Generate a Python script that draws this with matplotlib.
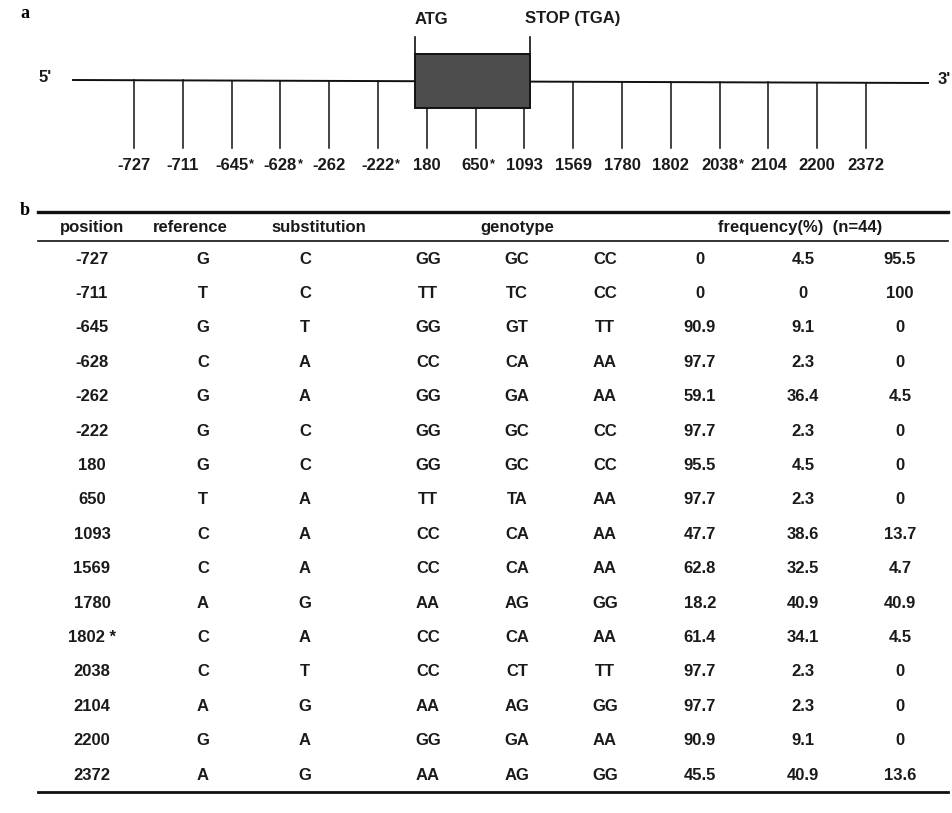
import matplotlib.pyplot as plt
from matplotlib.patches import Rectangle

# SNP positions along the gene and their genotype frequencies
positions = ["-727", "-711", "-645", "-628", "-262", "-222", "180", "650",
             "1093", "1569", "1780", "1802", "2038", "2104", "2200", "2372"]
starred_map = ["-645", "-628", "-222", "650", "2038"]
starred_table = ["1802"]
reference = ["G", "T", "G", "C", "G", "G", "G", "T",
             "C", "C", "A", "C", "C", "A", "G", "A"]
substitution = ["C", "C", "T", "A", "A", "C", "C", "A",
                "A", "A", "G", "A", "T", "G", "A", "G"]
freq_homo_ref = [0, 0, 90.9, 97.7, 59.1, 97.7, 95.5, 97.7,
                 47.7, 62.8, 18.2, 61.4, 97.7, 97.7, 90.9, 45.5]
freq_hetero = [4.5, 0, 9.1, 2.3, 36.4, 2.3, 4.5, 2.3,
               38.6, 32.5, 40.9, 34.1, 2.3, 2.3, 9.1, 40.9]
freq_homo_sub = [95.5, 100, 0, 0, 4.5, 0, 0, 0,
                 13.7, 4.7, 40.9, 4.5, 0, 0, 0, 13.6]
headers = ["position", "reference", "substitution", "genotype",
           "frequency(%)  (n=44)"]

plt.rcParams["font.family"] = ["Liberation Sans", "DejaVu Sans"]

fig = plt.figure(figsize=(9.53, 8.13), dpi=100)
ax = fig.add_axes([0, 0, 1, 1])
ax.set_xlim(0, 953)
ax.set_ylim(813, 0)
ax.axis("off")

txt = dict(fontsize=12, fontweight="bold", color="#1a1a1a", ha="center", va="center")
star = dict(fontsize=9, fontweight="bold", color="#1a1a1a", ha="left", va="center")

# --- panel a: gene map ---
ax.text(25, 14, "a", fontsize=13, fontweight="bold", family="Liberation Serif",
        ha="center", va="center")
ax.plot([73, 928], [80, 83], color="#111111", lw=1.4)
ax.text(45, 78, "5'", **txt)
ax.text(944, 80, "3'", **txt)

box_l, box_r, box_t, box_b = 415, 530, 54, 108
ax.add_patch(Rectangle((box_l, box_t), box_r - box_l, box_b - box_t,
                       facecolor="#4d4d4d", edgecolor="#111111", lw=1.4, zorder=3))
ax.plot([box_l, box_l], [37, box_t], color="#111111", lw=1.2)
ax.plot([box_r, box_r], [37, box_t], color="#111111", lw=1.2)
ax.text(431, 19, "ATG", **txt)
ax.text(573, 19, "STOP (TGA)", **txt)

x0, step = 134, 48.8
for i, pos in enumerate(positions):
    x = x0 + i * step
    top = 80 + 3 * (x - 73) / 855
    if box_l < x < box_r:
        top = box_b
    ax.plot([x, x], [top, 148], color="#111111", lw=1.1)
    t = ax.text(x, 166, pos, **txt)
    if pos in starred_map:
        # small raised asterisk right after the label
        ax.annotate("*", xy=(1, 0.5), xycoords=t, xytext=(0.5, 1),
                    textcoords="offset points", **star)

# --- panel b: genotype table ---
ax.text(25, 210, "b", fontsize=13, fontweight="bold", family="Liberation Serif",
        ha="center", va="center")
ax.plot([38, 948], [212, 212], color="#111111", lw=2.4)
ax.plot([38, 948], [241, 241], color="#111111", lw=1.2)
ax.plot([38, 948], [792, 792], color="#111111", lw=2.0)

header_x = [92, 190, 319, 517, 800]
for hx, h in zip(header_x, headers):
    ax.text(hx, 227, h, **txt)

col_x = [92, 203, 305, 428, 517, 605, 700, 803, 900]
row0, row_step = 259, 34.4
for i, pos in enumerate(positions):
    y = row0 + i * row_step
    r, s = reference[i], substitution[i]
    label = pos + (" *" if pos in starred_table else "")
    cells = [label, r, s, r + r, r + s, s + s,
             f"{freq_homo_ref[i]:g}", f"{freq_hetero[i]:g}", f"{freq_homo_sub[i]:g}"]
    for cx, c in zip(col_x, cells):
        ax.text(cx, y, c, **txt)

fig.savefig("out.png", dpi=100)
